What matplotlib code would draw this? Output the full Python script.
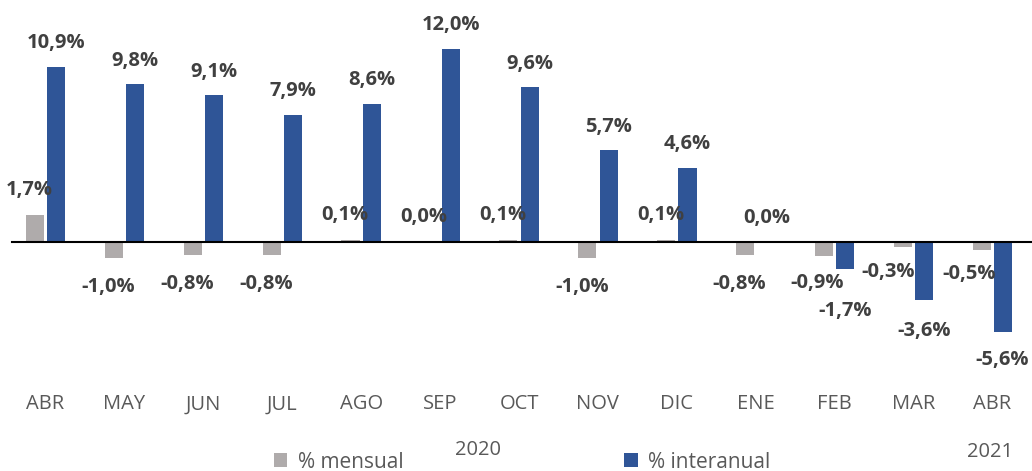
import matplotlib.pyplot as plt
import numpy as np

plt.rcParams['font.family'] = ['Open Sans', 'DejaVu Sans']

months = ['ABR', 'MAY', 'JUN', 'JUL', 'AGO', 'SEP', 'OCT', 'NOV', 'DIC', 'ENE', 'FEB', 'MAR', 'ABR']
years = ['2020', '2021']
mensual = [1.7, -1.0, -0.8, -0.8, 0.1, 0.0, 0.1, -1.0, 0.1, -0.8, -0.9, -0.3, -0.5]
interanual = [10.9, 9.8, 9.1, 7.9, 8.6, 12.0, 9.6, 5.7, 4.6, 0.0, -1.7, -3.6, -5.6]

GRAY = '#AFABAB'
BLUE = '#2F5597'
LABEL = '#404040'

W, H = 1032, 471
fig = plt.figure(figsize=(W / 100, H / 100), dpi=100)
ax = fig.add_axes([6 / W, 1 - 386 / H, 1026 / W, 386 / H])

x = np.arange(len(months))
bw = 0.23
off = 0.135
ax.bar(x - off, mensual, bw, color=GRAY, label='% mensual')
ax.bar(x + off, interanual, bw, color=BLUE, label='% interanual')
ax.axhline(0, color='black', lw=1.5, xmin=0.006)

ax.set_xlim(-0.5, len(months) - 0.5)
ppu = 16.1
ax.set_ylim(-(386 - 242) / ppu, 242 / ppu)


def fmt(v):
    return f'{v:.1f}%'.replace('.', ',')


# label offsets in points (dx, dy); Excel shifted a few to avoid overlaps
m_off = {10: (-5, -19), 11: (-11, -18), 12: (-9, -17)}
i_off = {10: (0, -30), 11: (0, -22), 12: (-1, -20)}

for i, v in enumerate(mensual):
    dx, dy = m_off.get(i, (-4, 18 if v >= 0 else -21))
    ax.annotate(fmt(v), (x[i] - off, v), xytext=(dx, dy), textcoords='offset points',
                ha='center', va='center', fontsize=14.5, fontweight='bold', color=LABEL)

for i, v in enumerate(interanual):
    dx, dy = i_off.get(i, (0, 17))
    ax.annotate(fmt(v), (x[i] + off, v), xytext=(dx, dy), textcoords='offset points',
                ha='center', va='center', fontsize=14.5, fontweight='bold', color=LABEL)

ax.set_xticks(x)
ax.set_xticklabels(months, fontsize=14.5, color='#595959')
ax.tick_params(axis='x', length=0, pad=6)
ax.set_yticks([])
for s in ax.spines.values():
    s.set_visible(False)

fig.text(478 / W, 1 - 450 / H, years[0], ha='center', va='center', fontsize=14.5, color='#595959')
fig.text(990 / W, 1 - 452 / H, years[1], ha='center', va='center', fontsize=14.5, color='#595959')

fig.legend(loc='center', bbox_to_anchor=(522 / W, 1 - 462 / H), ncol=2, frameon=False,
           fontsize=15, labelcolor='#595959', handlelength=0.65, handleheight=0.65,
           handletextpad=0.5, columnspacing=10.6)

fig.savefig('out.png', dpi=100)
